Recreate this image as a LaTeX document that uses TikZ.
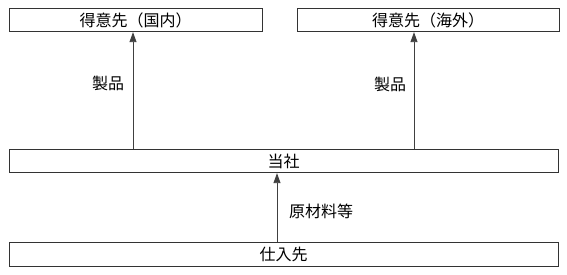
\documentclass[tikz,border=0pt]{standalone}
\usepackage{fontspec}
\setmainfont{Noto Sans CJK JP}
\usetikzlibrary{arrows.meta}

\begin{document}
\begin{tikzpicture}[x=1pt, y=-1pt, line width=0.8pt,
  box/.style={draw=black!80, minimum height=23.5pt, inner sep=0pt, font=\fontsize{16}{18}\selectfont},
  arr/.style={-{Triangle[width=7pt,length=10pt]}, draw=black!75},
  lbl/.style={font=\fontsize{16}{18}\selectfont}]
  \useasboundingbox (0,0) rectangle (567,275);

  \node[box, minimum width=253pt] (dom) at (135.5,20) {得意先（国内）};
  \node[box, minimum width=262pt] (ovs) at (428,20) {得意先（海外）};
  \node[box, minimum width=549pt] (tosha) at (283.5,161) {当社};
  \node[box, minimum width=549pt] (shiire) at (283.5,254.5) {仕入先};

  \coordinate (xa) at (133,0);
  \coordinate (xb) at (414,0);
  \coordinate (xc) at (277,0);

  % 製品の流れ
  \draw[arr] (tosha.north -| xa) -- (dom.south -| xa);
  \draw[arr] (tosha.north -| xb) -- (ovs.south -| xb);
  % 原材料等
  \draw[arr] (shiire.north -| xc) -- (tosha.south -| xc);

  \node[lbl] (p1) at (108,83) {製品};
  \node[lbl] (p2) at (390,84) {製品};
  \node[lbl] (raw) at (321,211) {原材料等};
\end{tikzpicture}
\end{document}
